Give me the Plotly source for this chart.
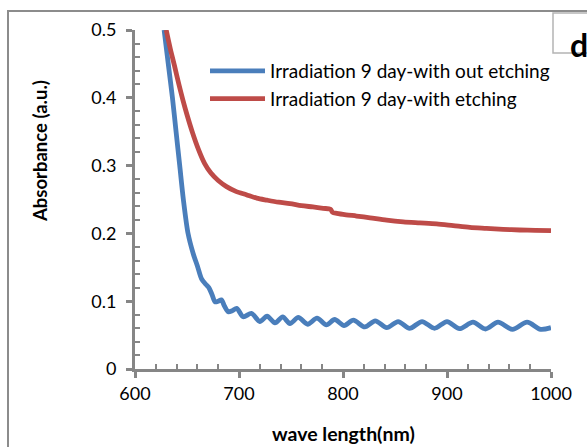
import plotly.graph_objects as go

# ---- data ----
wl_blue = [628, 632, 636, 639.5, 643, 646.5, 651, 656, 660, 664, 668, 671, 674, 677,
           680, 683, 686, 689.7, 693.5, 697.8, 704, 712, 720, 727, 734.6, 742, 749,
           757, 766, 775, 784, 792, 801, 810, 821, 831, 842, 853, 864, 876, 888, 900,
           912, 925, 937, 949, 963, 977, 990, 1000]
abs_blue = [0.50, 0.45, 0.40, 0.35, 0.30, 0.25, 0.20, 0.17, 0.152, 0.133, 0.125, 0.12,
            0.11, 0.099, 0.100, 0.102, 0.093, 0.0845, 0.086, 0.0895, 0.077, 0.082,
            0.070, 0.078, 0.068, 0.077, 0.067, 0.076, 0.066, 0.075, 0.065, 0.073,
            0.064, 0.072, 0.062, 0.071, 0.061, 0.070, 0.060, 0.070, 0.060, 0.070,
            0.0595, 0.069, 0.059, 0.069, 0.0585, 0.069, 0.0585, 0.061]

wl_red = [630, 634, 638, 642, 646, 650, 655, 661, 667, 673, 680, 688, 697, 707, 717,
          727, 738, 749, 760, 771, 781, 788, 790, 794, 803, 813, 826, 842, 858, 874,
          890, 906, 922, 938, 954, 970, 985, 1000]
abs_red = [0.50, 0.472, 0.447, 0.421, 0.397, 0.375, 0.350, 0.324, 0.303, 0.289,
           0.278, 0.269, 0.262, 0.257, 0.252, 0.249, 0.246, 0.244, 0.241, 0.239,
           0.237, 0.2355, 0.231, 0.2296, 0.2275, 0.2256, 0.223, 0.2195, 0.217,
           0.2155, 0.214, 0.2115, 0.209, 0.2075, 0.206, 0.205, 0.2045, 0.204]

name_blue = "Irradiation 9 day-with out etching"
name_red = "Irradiation 9 day-with etching"

x_major = [600, 700, 800, 900, 1000]
y_major = [0, 0.1, 0.2, 0.3, 0.4, 0.5]
y_labels = ["0", "0.1", "0.2", "0.3", "0.4", "0.5"]

# ---- layout geometry (pixels) ----
WIDTH, HEIGHT = 587, 447
L, R, T, B = 135, 551, 30, 369
PW, PH = R - L, B - T


def px(xp):
    return (xp - L) / PW


def py(yp):
    return (B - yp) / PH


FONT = "Lato"
AXC = "#868686"
BLUE = "#4A7EBB"
RED = "#BE4B48"

fig = go.Figure()
fig.add_trace(go.Scatter(x=wl_blue, y=abs_blue, mode="lines", name=name_blue,
                         legendgroup="a",
                         line=dict(color=BLUE, width=4.8, shape="spline", smoothing=0.8)))
fig.add_trace(go.Scatter(x=wl_red, y=abs_red, mode="lines", name=name_red,
                         legendgroup="b",
                         line=dict(color=RED, width=4.8, shape="spline", smoothing=0.8)))

fig.update_layout(
    width=WIDTH, height=HEIGHT,
    margin=dict(l=L, r=WIDTH - R, t=T, b=HEIGHT - B, pad=0),
    paper_bgcolor="white", plot_bgcolor="white",
    font=dict(family=FONT, color="black", size=18),
    showlegend=True,
    legend=dict(x=px(205), y=py(52), xanchor="left", yanchor="top",
                bgcolor="rgba(0,0,0,0)", font=dict(family=FONT, size=19),
                itemwidth=55, tracegroupgap=0),
    xaxis=dict(range=[600, 1000], tickvals=x_major, ticktext=[str(v) for v in x_major],
               showgrid=False, zeroline=False, showline=True, linecolor=AXC, linewidth=3,
               ticks="outside", ticklen=6, tickwidth=3, tickcolor=AXC,
               ticklabelstandoff=0,
               minor=dict(tickvals=[v for v in range(620, 1000, 20) if v % 100],
                          ticks="inside", ticklen=5, tickwidth=2, tickcolor=AXC),
               tickfont=dict(family=FONT, size=18)),
    yaxis=dict(range=[0, 0.5], tickvals=y_major, ticktext=y_labels,
               showgrid=False, zeroline=False, showline=True, linecolor=AXC, linewidth=3,
               ticks="outside", ticklen=6, tickwidth=3, tickcolor=AXC,
               ticklabelstandoff=6,
               minor=dict(tickvals=[round(i * 0.02, 2) for i in range(1, 25) if i % 5],
                          ticks="inside", ticklen=5, tickwidth=2, tickcolor=AXC),
               tickfont=dict(family=FONT, size=18)),
    xaxis2=dict(range=[600, 1000], overlaying="x", anchor="y", tickvals=x_major,
                showticklabels=False, showgrid=False, zeroline=False, showline=False,
                ticks="inside", ticklen=6, tickwidth=3, tickcolor=AXC),
    yaxis2=dict(range=[0, 0.5], overlaying="y", anchor="x", side="left", tickvals=y_major,
                showticklabels=False, showgrid=False, zeroline=False, showline=False,
                ticks="inside", ticklen=6, tickwidth=3, tickcolor=AXC),
)

# outer chart border and the "d" label box
fig.add_shape(type="rect", xref="paper", yref="paper",
              x0=px(8), x1=px(600), y0=py(11), y1=py(470),
              line=dict(color="#8c8c8c", width=2), fillcolor="rgba(0,0,0,0)", layer="below")
fig.add_shape(type="rect", xref="paper", yref="paper",
              x0=px(553), x1=px(600), y0=py(13), y1=py(53),
              line=dict(color="#b4b4b4", width=1.5), fillcolor="white", layer="below")
fig.add_annotation(text="<b>d</b>", xref="paper", yref="paper", x=px(568), y=py(44),
                   xanchor="left", yanchor="middle", showarrow=False,
                   font=dict(family=FONT, size=32, color="black"))

# axis titles
fig.add_annotation(text="<b>Absorbance (a.u.)</b>", xref="paper", yref="paper",
                   x=px(40), y=py(151), xanchor="center", yanchor="middle",
                   textangle=-90, showarrow=False, font=dict(family=FONT, size=18.5))
fig.add_annotation(text="<b>wave length(nm)</b>", xref="paper", yref="paper",
                   x=0.5, y=py(433), xanchor="center", yanchor="middle",
                   showarrow=False, font=dict(family=FONT, size=19.5))

fig.write_html("out.html")
